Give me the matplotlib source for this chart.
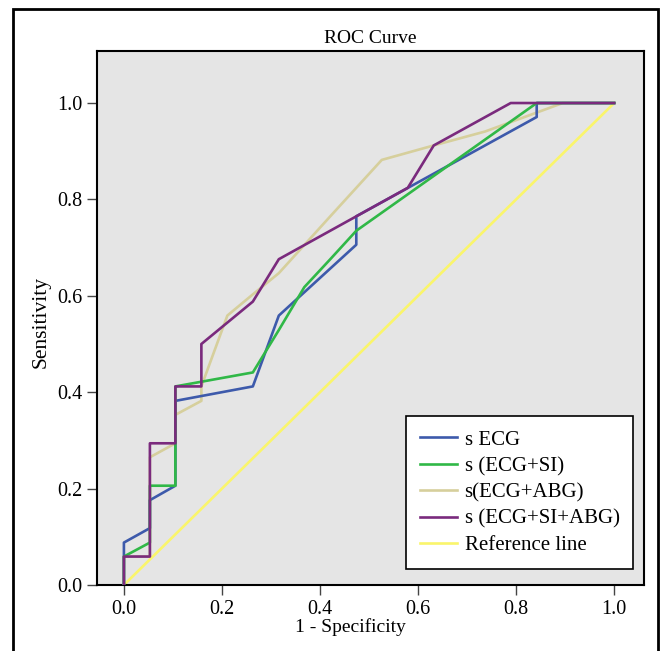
import matplotlib
matplotlib.use('Agg')
import matplotlib.pyplot as plt
from matplotlib.patches import Rectangle

plt.rcParams['font.family'] = ['Liberation Serif', 'DejaVu Serif']

# ROC points (1 - specificity, sensitivity)
ecg_fpr = [0.0, 0.0, 0.053, 0.053, 0.105, 0.105, 0.263, 0.316, 0.474, 0.474, 0.842, 0.842, 1.0]
ecg_tpr = [0.0, 0.088, 0.118, 0.176, 0.206, 0.382, 0.412, 0.559, 0.706, 0.765, 0.971, 1.0, 1.0]

ecg_si_fpr = [0.0, 0.0, 0.053, 0.053, 0.105, 0.105, 0.263, 0.316, 0.368, 0.421, 0.474, 0.842, 1.0]
ecg_si_tpr = [0.0, 0.059, 0.088, 0.206, 0.206, 0.412, 0.441, 0.529, 0.618, 0.676, 0.735, 1.0, 1.0]

ecg_abg_fpr = [0.0, 0.0, 0.053, 0.053, 0.105, 0.105, 0.158, 0.158, 0.211, 0.263, 0.316, 0.421,
               0.526, 0.632, 0.737, 0.895, 1.0]
ecg_abg_tpr = [0.0, 0.059, 0.059, 0.265, 0.294, 0.353, 0.382, 0.412, 0.559, 0.603, 0.647, 0.765,
               0.882, 0.912, 0.941, 1.0, 1.0]

ecg_si_abg_fpr = [0.0, 0.0, 0.053, 0.053, 0.105, 0.105, 0.158, 0.158, 0.263, 0.316, 0.579, 0.632,
                  0.789, 1.0]
ecg_si_abg_tpr = [0.0, 0.059, 0.059, 0.294, 0.294, 0.412, 0.412, 0.5, 0.588, 0.676, 0.824, 0.912,
                  1.0, 1.0]

ref_x = [0.0, 1.0]
ref_y = [0.0, 1.0]

labels = ['s ECG', 's (ECG+SI)', 's(ECG+ABG)', 's (ECG+SI+ABG)', 'Reference line']
colors = ['#3d5aab', '#30b847', '#d6cf9c', '#7a2a7d', '#faf56b']

fig = plt.figure(figsize=(6.64, 6.51), dpi=100)
ax = fig.add_axes([0.146, 0.1014, 0.824, 0.8203])
ax.set_facecolor('#e5e5e5')

lw = 1.9
l_ref, = ax.plot(ref_x, ref_y, color=colors[4], lw=lw, zorder=2)
l_abg, = ax.plot(ecg_abg_fpr, ecg_abg_tpr, color=colors[2], lw=lw, zorder=3)
l_ecg, = ax.plot(ecg_fpr, ecg_tpr, color=colors[0], lw=lw, zorder=4)
l_si, = ax.plot(ecg_si_fpr, ecg_si_tpr, color=colors[1], lw=lw, zorder=5)
l_all, = ax.plot(ecg_si_abg_fpr, ecg_si_abg_tpr, color=colors[3], lw=lw, zorder=6)

ax.set_xlim(-0.055, 1.061)
ax.set_ylim(0, 1.108)
ax.set_xticks([0.0, 0.2, 0.4, 0.6, 0.8, 1.0])
ax.set_yticks([0.0, 0.2, 0.4, 0.6, 0.8, 1.0])
ax.set_xticklabels(['0.0', '0.2', '0.4', '0.6', '0.8', '1.0'])
ax.set_yticklabels(['0.0', '0.2', '0.4', '0.6', '0.8', '1.0'])
ax.tick_params(direction='out', length=7, width=1, labelsize=14.5, color='#444444')
for s in ax.spines.values():
    s.set_linewidth(1.5)

ax.set_title('ROC Curve', fontsize=14, pad=6)
ax.set_xlabel('1 - Specificity', fontsize=14, labelpad=1)
ax.xaxis.set_label_coords(0.464, -0.062)
ax.set_ylabel('Sensitivity', fontsize=15.5, labelpad=5)
ax.yaxis.label.set_y(0.492)

leg = ax.legend([l_ecg, l_si, l_abg, l_all, l_ref], labels, loc='lower right',
                bbox_to_anchor=(0.980, 0.030), borderaxespad=0, fontsize=15, fancybox=False,
                framealpha=1, edgecolor='black', handlelength=1.8, handletextpad=0.35,
                borderpad=0.65, labelspacing=0.33)
leg.get_frame().set_linewidth(1.2)

# outer frame around the whole chart
fig.patches.append(Rectangle((0.0196, -0.05), 0.971, 1.036, transform=fig.transFigure,
                             fill=False, edgecolor='black', linewidth=2))

fig.savefig('out.png', dpi=100)
